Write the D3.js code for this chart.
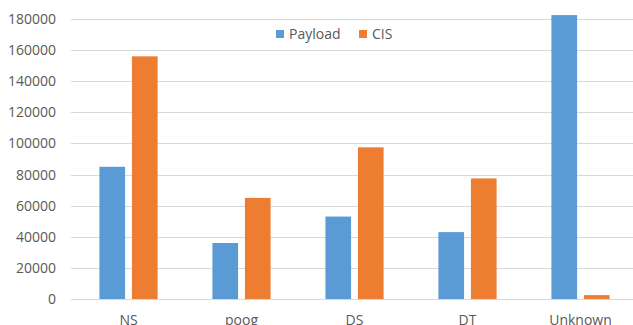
<!DOCTYPE html>
<html>
<head>
<meta charset="utf-8">
<script src="https://cdn.jsdelivr.net/npm/d3@7"></script>
<style>
  body { margin: 0; background: #fff; }
  svg text { font-family: "Open Sans", sans-serif; fill: #595959; }
</style>
</head>
<body>
<div id="chart"></div>
<script>
// data
const categories = ["NS", "poog", "DS", "DT", "Unknown"];
const seriesNames = ["Payload", "CIS"];
const payload = [85000, 36000, 53000, 43000, 182500];
const cis = [156000, 65000, 97500, 77500, 2500];
const yTicks = [0, 20000, 40000, 60000, 80000, 100000, 120000, 140000, 160000, 180000];

const colors = { Payload: "#5b9bd5", CIS: "#ed7d31" };

const width = 633, height = 325;

const svg = d3.select("#chart")
  .append("svg")
    .attr("width", width)
    .attr("height", height);

// plot runs off the right edge (the original is cropped)
const x0 = d3.scaleBand()
  .domain(categories)
  .range([72, 637])
  .padding(0);

const x1 = d3.scaleBand()
  .domain(seriesNames)
  .range([0, 58.2])
  .paddingInner(0.21);

const y = d3.scaleLinear()
  .domain([0, 180000])
  .range([299, 19]);

// gridlines
svg.append("g")
  .selectAll("line")
  .data(yTicks.filter(d => d > 0))
  .join("line")
    .attr("x1", 71)
    .attr("x2", width)
    .attr("y1", d => Math.round(y(d)) + 0.5)
    .attr("y2", d => Math.round(y(d)) + 0.5)
    .attr("stroke", "#d9d9d9")
    .attr("stroke-width", 1);

// y labels
const yAxis = svg.append("g")
  .attr("transform", "translate(56,0)")
  .call(d3.axisLeft(y).tickValues(yTicks).tickSize(0).tickPadding(0).tickFormat(d3.format("d")));
yAxis.select(".domain").remove();
yAxis.selectAll("text")
  .attr("font-size", 14)
  .style("font-family", "'Open Sans', sans-serif")
  .attr("fill", "#595959");

// bars
const rows = categories.map((c, i) => ({ cat: c, Payload: payload[i], CIS: cis[i] }));
const pairOffset = (x0.bandwidth() - 58.2) / 2;

svg.append("g")
  .selectAll("g")
  .data(rows)
  .join("g")
    .attr("transform", d => `translate(${x0(d.cat) + pairOffset},0)`)
  .selectAll("rect")
  .data(d => seriesNames.map(k => ({ key: k, value: d[k] })))
  .join("rect")
    .attr("x", d => x1(d.key))
    .attr("y", d => y(d.value))
    .attr("width", x1.bandwidth())
    .attr("height", d => y(0) - y(d.value))
    .attr("fill", d => colors[d.key]);

// x axis line
svg.append("line")
  .attr("x1", 71)
  .attr("x2", width)
  .attr("y1", 299.5)
  .attr("y2", 299.5)
  .attr("stroke", "#d9d9d9");

// x labels
const xAxis = svg.append("g")
  .attr("transform", "translate(0,299)")
  .call(d3.axisBottom(x0).tickSize(0).tickPadding(16));
xAxis.select(".domain").remove();
xAxis.selectAll("text")
  .attr("font-size", 14)
  .style("font-family", "'Open Sans', sans-serif")
  .attr("fill", "#595959")
  .attr("x", d => 58.2 / 2 + pairOffset - x0.bandwidth() / 2);

// legend
const legend = svg.append("g").attr("transform", "translate(276,34)");
const legendX = [0, 83];
const items = legend.selectAll("g")
  .data(seriesNames)
  .join("g")
    .attr("transform", (d, i) => `translate(${legendX[i]},0)`);
items.append("rect")
  .attr("x", 0)
  .attr("y", -4)
  .attr("width", 8)
  .attr("height", 8)
  .attr("fill", d => colors[d]);
items.append("text")
  .attr("x", 13)
  .attr("y", 5)
  .attr("font-size", 14)
  .text(d => d);
</script>
</body>
</html>
